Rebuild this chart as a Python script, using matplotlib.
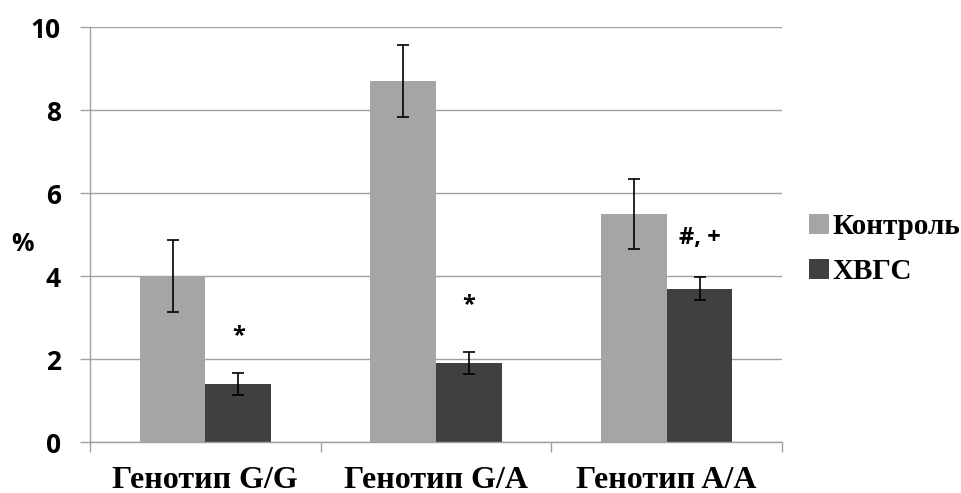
import numpy as np
import matplotlib
matplotlib.use("Agg")
import matplotlib.pyplot as plt

# dati
categories = ["Генотип G/G", "Генотип G/A", "Генотип A/A"]
series_names = ["Контроль", "ХВГС"]
control = [4.0, 8.7, 5.5]
control_err = [0.86, 0.87, 0.85]
hvgs = [1.4, 1.9, 3.7]
hvgs_err = [0.27, 0.27, 0.27]
marks = ["*", "*", "#, +"]
mark_y = [2.55, 3.3, 4.93]
y_ticks = [0, 2, 4, 6, 8, 10]

col_ctrl = "#A5A5A5"
col_hvgs = "#404040"
grid_col = "#A0A0A0"

fig = plt.figure(figsize=(9.62, 4.93), dpi=100)
ax = fig.add_axes([0.0936, 0.1034, 0.7193, 0.8412])

x = np.arange(len(categories))
w = 0.285
ax.bar(x - w / 2, control, w, color=col_ctrl, label=series_names[0], zorder=2)
ax.bar(x + w / 2, hvgs, w, color=col_hvgs, label=series_names[1], zorder=2)
ax.errorbar(x - w / 2, control, yerr=control_err, fmt="none", ecolor="black",
            elinewidth=1.2, capsize=4.3, capthick=1.2, zorder=3)
ax.errorbar(x + w / 2, hvgs, yerr=hvgs_err, fmt="none", ecolor="black",
            elinewidth=1.2, capsize=4.3, capthick=1.2, zorder=3)

for xi, m, my in zip(x, marks, mark_y):
    ax.text(xi + w / 2, my, m, ha="center", va="center", fontsize=17,
            fontweight="bold", family="Open Sans")

ax.set_xlim(-0.5, 2.5)
ax.set_ylim(0, 10)
ax.set_yticks(y_ticks)
ax.set_yticklabels([str(t) for t in y_ticks], fontsize=19, fontweight="bold",
                   family="Open Sans")
ax.yaxis.grid(True, color=grid_col, linewidth=1.0, zorder=0)
ax.set_axisbelow(True)
ax.tick_params(axis="y", length=7, width=1.0, color=grid_col, pad=14)

ax.set_xticks(x)
ax.set_xticklabels(categories, fontsize=23, fontweight="bold",
                   family="Liberation Serif")
ax.tick_params(axis="x", which="major", length=0, pad=17)
ax.set_xticks([-0.5, 0.5, 1.5, 2.5], minor=True)
ax.tick_params(axis="x", which="minor", length=7, width=1.0, color=grid_col)

for s in ["top", "right"]:
    ax.spines[s].set_visible(False)
for s in ["left", "bottom"]:
    ax.spines[s].set_color(grid_col)
    ax.spines[s].set_linewidth(1.0)

fig.text(0.012, 0.505, "%", fontsize=18, fontweight="bold", family="Open Sans",
         ha="left", va="center")

fig.legend(loc="center left", bbox_to_anchor=(0.841, 0.494), frameon=False,
           prop={"family": "Liberation Serif", "weight": "bold", "size": 21},
           handlelength=0.7, handleheight=0.7, handletextpad=0.1,
           labelspacing=0.62, borderpad=0, borderaxespad=0)

fig.savefig("out.png", dpi=100)
